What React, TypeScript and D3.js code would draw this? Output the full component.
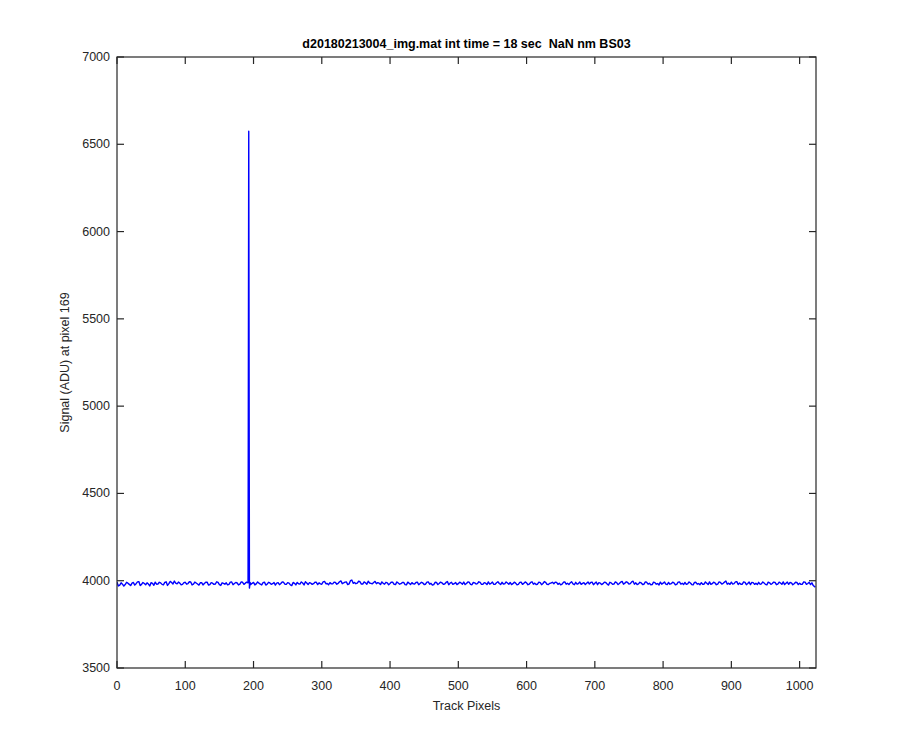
import React from "react";
import * as d3 from "d3";

const titleText = "d20180213004_img.mat int time = 18 sec  NaN nm BS03";
const xLabel = "Track Pixels";
const yLabel = "Signal (ADU) at pixel 169";
const xTicks = [0, 100, 200, 300, 400, 500, 600, 700, 800, 900, 1000];
const yTicks = [3500, 4000, 4500, 5000, 5500, 6000, 6500, 7000];
const xDomain = [0, 1024];
const yDomain = [3500, 7000];

const sampleStep = 4;
// signal at pixels 0, 4, 8, ...
const signalEven = [
  3992,3975,3980,3978,3986,3972,3990,3983,3995,3979,3984,3988,3970,3985,3992,3981,
  3987,3976,3994,3983,3990,3998,3982,3986,3979,3991,3984,3993,3980,3987,3975,3989,
  3984,3992,3978,3986,3981,3990,3973,3985,3988,3979,3993,3984,3987,3980,3991,3986,
  3988,3978,3990,3982,3986,3976,3992,3980,3987,3983,3975,3989,3984,3991,3979,3986,
  3972,3985,3990,3981,3987,3994,3978,3986,3983,3991,3988,3980,3996,3984,3989,3982,
  3990,3985,3999,3987,3993,3982,4004,3990,3986,3994,3981,3988,3997,3985,3990,3983,
  3986,3993,3980,3988,3984,3991,3978,3987,3983,3990,3976,3985,3989,3981,3992,3984,
  3987,3980,3993,3985,3978,3990,3984,3988,3981,3995,3986,3979,3990,3983,3987,3992,
  3984,3991,3977,3988,3983,3990,3980,3986,3993,3985,3979,3988,3984,3991,3982,3987,
  3990,3983,3986,3979,3992,3985,3988,3981,3994,3986,3980,3989,3984,3991,3978,3987,
  3983,3990,3986,3980,3993,3985,3988,3982,3991,3984,3979,3989,3986,3981,3992,3985,
  3977,3986,3983,3990,3975,3987,3981,3989,3984,3996,3986,3990,3983,3997,3988,3982,
  3987,3980,3991,3985,3978,3989,3984,3992,3986,3981,3990,3983,3988,3979,3993,3985,
  3990,3982,3987,3976,3991,3984,3989,3980,3986,3993,3983,3988,3981,3990,3985,3998,
  3986,3992,3983,3995,3987,3980,3990,3984,3978,3989,3985,3991,3982,3987,3976,3988,
  3984,3990,3981,3987,3993,3985,3979,3988,3983,3990,3986,3980,3992,3984,3978,3972,
];
// signal at pixels 2, 6, 10, ...
const signalOdd = [
  3970,3988,3969,3991,3979,3986,3975,3993,3972,3990,3977,3981,3989,3974,3980,3991,
  3979,3990,3973,3996,3981,3986,3992,3977,3989,3980,3994,3976,3992,3981,3988,3976,
  3991,3975,3989,3979,3994,3977,3988,3980,3976,3992,3977,3990,3976,3993,3979,3992,
  3980,3985,3976,3993,3980,3989,3975,3991,3979,3990,3986,3977,3993,3980,3989,3976,
  3990,3976,3982,3993,3976,3987,3989,3979,3992,3978,3982,3993,3983,3977,3982,3992,
  3980,3994,3983,3992,3978,4000,3985,3983,3997,3981,3993,3980,3987,3982,3996,3989,
  3978,3985,3991,3977,3992,3979,3993,3980,3990,3978,3992,3978,3982,3990,3977,3991,
  3978,3992,3980,3975,3991,3978,3992,3980,3990,3977,3991,3983,3978,3992,3980,3978,
  3993,3979,3990,3981,3994,3979,3989,3978,3981,3992,3980,3994,3978,3981,3993,3980,
  3978,3992,3977,3990,3979,3993,3977,3990,3980,3978,3992,3977,3995,3979,3985,3991,
  3992,3979,3976,3991,3980,3978,3994,3977,3980,3992,3985,3978,3993,3990,3977,3993,
  3989,3978,3992,3981,3991,3980,3993,3978,3992,3980,3994,3981,3993,3980,3978,3991,
  3978,3993,3980,3977,3992,3980,3976,3980,3993,3978,3980,3992,3977,3992,3981,3978,
  3979,3993,3978,3990,3980,3977,3980,3993,3978,3979,3992,3977,3993,3981,3992,3980,
  3979,3981,3993,3978,3980,3993,3977,3992,3990,3979,3978,3980,3993,3979,3992,3979,
  3992,3977,3992,3979,3978,3992,3990,3977,3991,3978,3979,3993,3979,3991,3988,3965,
];
const extraPixels = [193, 194, 195, 1023];
const extraSignal = [6575, 3958, 3990, 3968];

export default function App() {
  const W = 900, H = 750;
  const L = 117, R = 816, T = 57, B = 668;
  const x = d3.scaleLinear().domain(xDomain).range([L, R]);
  const y = d3.scaleLinear().domain(yDomain).range([B, T]);

  const pts: [number, number][] = [];
  signalEven.forEach((v, i) => pts.push([i * sampleStep, v]));
  signalOdd.forEach((v, i) => {
    const p = i * sampleStep + 2;
    if (p !== 194) pts.push([p, v]);
  });
  extraPixels.forEach((p, i) => pts.push([p, extraSignal[i]]));
  pts.sort((a, b) => a[0] - b[0]);

  const line = d3.line<[number, number]>().x(d => x(d[0])).y(d => y(d[1]));
  const tl = 7;
  const axisColor = "#262626";
  const font = "Liberation Sans, Arial, Helvetica, sans-serif";

  return (
    <svg width={W} height={H} style={{ display: "block", position: "absolute", left: 0, top: 0, background: "#fff" }} fontFamily={font}>
      <rect x={0} y={0} width={W} height={H} fill="#fff" />
      <defs>
        <clipPath id="plotclip">
          <rect x={L} y={T} width={R - L} height={B - T} />
        </clipPath>
      </defs>
      <path d={line(pts) || ""} fill="none" stroke="#0000ff" strokeWidth={1.4} strokeLinejoin="round" clipPath="url(#plotclip)" />
      <rect x={L} y={T} width={R - L} height={B - T} fill="none" stroke={axisColor} strokeWidth={1.2} />
      {xTicks.map(t => (
        <g key={"x" + t}>
          <line x1={x(t)} x2={x(t)} y1={B} y2={B - tl} stroke={axisColor} strokeWidth={1.2} />
          <line x1={x(t)} x2={x(t)} y1={T} y2={T + tl} stroke={axisColor} strokeWidth={1.2} />
          <text x={x(t)} y={B + 22} textAnchor="middle" fontSize={12.5} fill={axisColor}>{t}</text>
        </g>
      ))}
      {yTicks.map(t => (
        <g key={"y" + t}>
          <line x1={L} x2={L + tl} y1={y(t)} y2={y(t)} stroke={axisColor} strokeWidth={1.2} />
          <line x1={R} x2={R - tl} y1={y(t)} y2={y(t)} stroke={axisColor} strokeWidth={1.2} />
          <text x={L - 7} y={y(t) + 4} textAnchor="end" fontSize={12.5} fill={axisColor}>{t}</text>
        </g>
      ))}
      <text x={(L + R) / 2} y={48} textAnchor="middle" fontSize={12.5} fontWeight="bold" fill="#000" style={{ whiteSpace: "pre" }}>{titleText}</text>
      <text x={(L + R) / 2} y={710} textAnchor="middle" fontSize={12.5} fill={axisColor}>{xLabel}</text>
      <text transform={`translate(69, ${(T + B) / 2}) rotate(-90)`} textAnchor="middle" fontSize={12.5} fill={axisColor}>{yLabel}</text>
    </svg>
  );
}
